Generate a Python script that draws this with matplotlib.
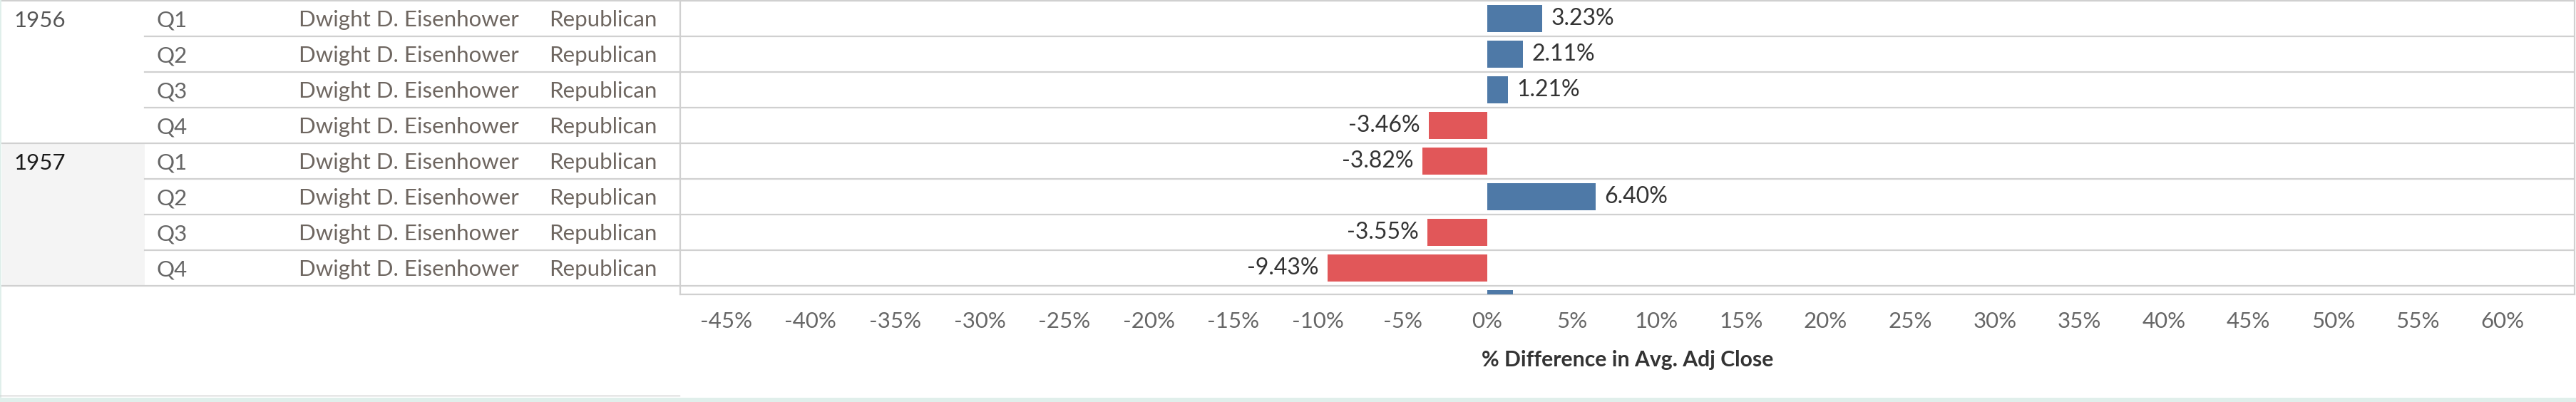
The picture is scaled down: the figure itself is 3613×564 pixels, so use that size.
import numpy as np
import matplotlib
matplotlib.use('Agg')
import matplotlib.pyplot as plt
import matplotlib.patches as mplpatches
from matplotlib.lines import Line2D

'''
Quarterly % difference in avg. adj close, Eisenhower years (Tableau-style table + bars)
'''

years = ['1956', '1957']
quarters = ['Q1', 'Q2', 'Q3', 'Q4', 'Q1', 'Q2', 'Q3', 'Q4']
presidents = ['Dwight D. Eisenhower'] * 8
parties = ['Republican'] * 8
# last value is the next row (1958 Q1), cut off by the bottom of the pane
pct_diff = [3.23, 2.11, 1.21, -3.46, -3.82, 6.40, -3.55, -9.43, 1.50]
x_ticks = list(range(-45, 65, 5))

W, H = 3613, 564
BLUE = '#4e79a7'
RED = '#e15759'
LINE = '#d0d0d0'
FS = 22.5

plt.rcParams['font.family'] = ['Lato', 'DejaVu Sans']


def fx(px):
    return px / W


def fy(py):
    return 1 - py / H


fig = plt.figure(figsize=(W / 100, H / 100), dpi=100)
fig.patch.set_facecolor('white')

pane_top, pane_bot = 1, 413
left_w = 954
row_h = 50.0
n_vis = (pane_bot - pane_top) / row_h
ylim = (n_vis - 0.5, -0.5)

ax_tab = fig.add_axes([0, fy(pane_bot), fx(left_w), (pane_bot - pane_top) / H])
ax = fig.add_axes([fx(left_w), fy(pane_bot), fx(3611 - left_w), (pane_bot - pane_top) / H])

# ---- left header table ----
ax_tab.set_xlim(0, left_w)
ax_tab.set_ylim(*ylim)
ax_tab.axis('off')

# highlighted year cell
ax_tab.add_patch(mplpatches.Rectangle((3, 3.5), 200, 4, color='#f4f4f4', lw=0, zorder=0))

for i, yr in enumerate(years):
    col = '#555555' if i == 0 else '#1a1a1a'
    ax_tab.text(19, 4 * i + 0.05, yr, va='center', ha='left', fontsize=FS, color=col)

for r in range(len(quarters)):
    ax_tab.text(219, r + 0.05, quarters[r], va='center', ha='left', fontsize=FS, color='#666666')
    ax_tab.text(419, r + 0.05, presidents[r], va='center', ha='left', fontsize=FS, color='#6e6660')
    ax_tab.text(770, r + 0.05, parties[r], va='center', ha='left', fontsize=FS, color='#6e6660')

for b in range(len(quarters) + 1):
    x0 = 3 if b % 4 == 0 else 203
    ax_tab.plot([x0, left_w], [b - 0.5, b - 0.5], color=LINE, lw=1.6, clip_on=False, zorder=2)

# ---- bar pane ----
colors = [BLUE if v >= 0 else RED for v in pct_diff]
ypos = np.arange(len(pct_diff))
ax.barh(ypos, pct_diff, height=0.75, color=colors, zorder=3)

for y, v in zip(ypos, pct_diff):
    off = 9 if v >= 0 else -9
    ax.annotate(f'{v:.2f}%', (v, y), xytext=(off, 0), textcoords='offset points',
                ha='left' if v >= 0 else 'right', va='center', fontsize=FS + 0.5, color='#333333')

for b in range(len(quarters) + 1):
    ax.axhline(b - 0.5, color=LINE, lw=1.6, zorder=1)

ax.set_xlim((954 - 2086) / 23.73, (3611 - 2086) / 23.73)
ax.set_ylim(*ylim)
ax.set_yticks([])
ax.set_xticks(x_ticks)
ax.set_xticklabels([f'{t}%' for t in x_ticks])
ax.tick_params(axis='x', length=0, pad=17, labelsize=FS, labelcolor='#666666')
ax.set_xlabel('% Difference in Avg. Adj Close', fontsize=21.7, fontweight='bold',
              color='#333333', labelpad=19)
for s in ['left', 'right', 'bottom', 'top']:
    ax.spines[s].set_color(LINE)
    ax.spines[s].set_linewidth(1.6)

# ---- frame decorations ----
fig.add_artist(Line2D([0, fx(953)], [fy(555), fy(555)], color=LINE, lw=1.0))
fig.add_artist(mplpatches.Rectangle((0, 0), 1, 6 / H, transform=fig.transFigure,
                                    color='#e0efeb', lw=0))
fig.add_artist(mplpatches.Rectangle((0, 0), 2 / W, 1, transform=fig.transFigure,
                                    color='#e0efeb', lw=0))

fig.savefig('out.png', dpi=100)
